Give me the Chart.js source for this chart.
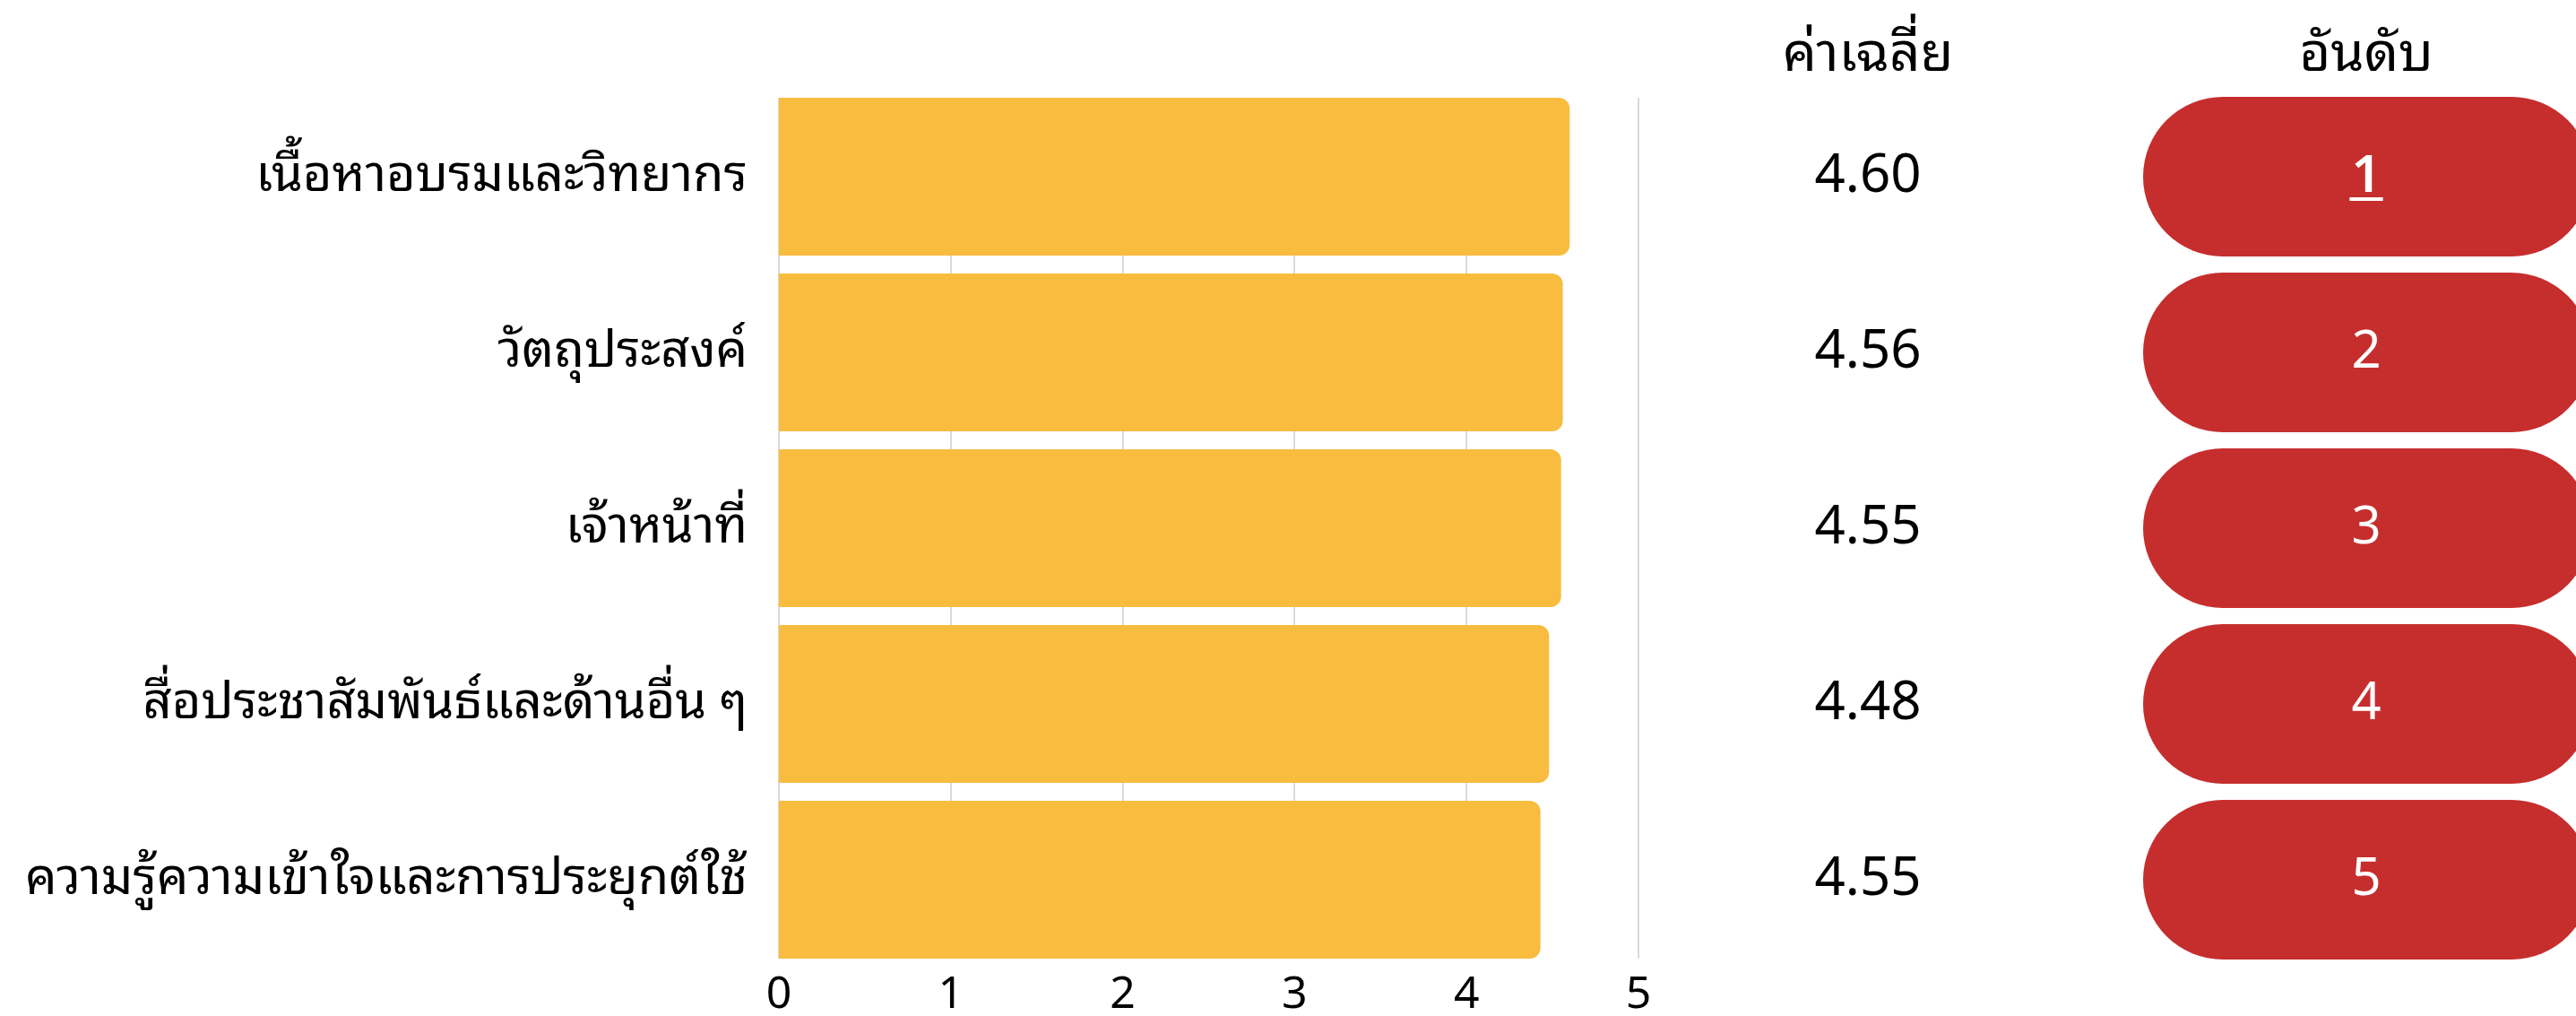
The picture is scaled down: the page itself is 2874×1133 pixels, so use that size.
<!DOCTYPE html>
<html><head><meta charset="utf-8">
<script src="https://cdn.jsdelivr.net/npm/chart.js@4"></script>
<style>html,body{margin:0;padding:0;background:#fff;}canvas{display:block;}</style>
</head><body>
<canvas id="c" width="2874" height="1133"></canvas>
<script>
const categories = ['เนื้อหาอบรมและวิทยากร','วัตถุประสงค์','เจ้าหน้าที่','สื่อประชาสัมพันธ์และด้านอื่น ๆ','ความรู้ความเข้าใจและการประยุกต์ใช้'];
const barValues = [4.60, 4.56, 4.55, 4.48, 4.43];
const meanLabels = ['4.60','4.56','4.55','4.48','4.55'];
const rankLabels = ['1','2','3','4','5'];
const meanHeader = 'ค่าเฉลี่ย';
const rankHeader = 'อันดับ';
const xMin = 0, xMax = 5, xStep = 1;

const BAR = '#F8BC3F', RED = '#C62E2E', GRID = '#D9D9D9';
const THAI = "'Noto Sans Thai Looped','Noto Sans Thai','Noto Sans','DejaVu Sans',sans-serif";
const NUM = "'Noto Sans','Open Sans',sans-serif";

const gridPlugin = {
  id: 'gridlines',
  beforeDatasetsDraw(chart) {
    const ctx = chart.ctx, xs = chart.scales.x;
    const els = chart.getDatasetMeta(0).data;
    const top = els[0].y - els[0].height / 2;
    const bot = els[els.length - 1].y + els[els.length - 1].height / 2;
    ctx.save();
    ctx.strokeStyle = GRID; ctx.lineWidth = 2;
    xs.ticks.forEach(t => {
      const x = Math.round(xs.getPixelForValue(t.value));
      ctx.beginPath(); ctx.moveTo(x, top); ctx.lineTo(x, bot); ctx.stroke();
    });
    ctx.restore();
  }
};

const tablePlugin = {
  id: 'table',
  afterDraw(chart) {
    const ctx = chart.ctx, ys = chart.scales.y;
    const els = chart.getDatasetMeta(0).data;
    const meanX = 2084, rankX = 2640, pillLeft = 2391, pillW = 500;
    ctx.save();
    ctx.textAlign = 'center'; ctx.textBaseline = 'middle';
    ctx.fillStyle = '#000';
    ctx.font = '60px ' + THAI;
    ctx.fillText(meanHeader, meanX, 62);
    ctx.fillText(rankHeader, rankX, 62);
    categories.forEach((c, i) => {
      const y = ys.getPixelForValue(i);
      const h = els[i].height + 2;
      ctx.fillStyle = '#000';
      ctx.font = '60px ' + NUM;
      ctx.fillText(meanLabels[i], meanX, y);
      ctx.fillStyle = RED;
      ctx.beginPath();
      ctx.roundRect(pillLeft, y - h / 2, pillW, h, h / 2);
      ctx.fill();
      ctx.fillStyle = '#fff';
      ctx.font = (i === 0 ? '600 ' : '') + '58px ' + NUM;
      ctx.fillText(rankLabels[i], rankX, y);
      if (i === 0) {
        const w = ctx.measureText(rankLabels[i]).width;
        ctx.fillRect(rankX - w / 2 - 2, y + 23, w + 4, 4);
      }
    });
    ctx.restore();
  }
};

new Chart(document.getElementById('c'), {
  type: 'bar',
  data: {
    labels: categories,
    datasets: [{
      data: barValues,
      backgroundColor: BAR,
      borderRadius: 12,
      borderSkipped: 'start',
      barPercentage: 0.898,
      categoryPercentage: 1
    }]
  },
  options: {
    indexAxis: 'y',
    responsive: false,
    devicePixelRatio: 1,
    animation: false,
    layout: { padding: { top: 99, right: 1046, left: 0, bottom: 0 } },
    plugins: { legend: { display: false }, tooltip: { enabled: false } },
    scales: {
      x: {
        min: xMin, max: xMax,
        ticks: { stepSize: xStep, color: '#000', font: { family: NUM, size: 50, lineHeight: 1 }, padding: 6 },
        grid: { display: false, drawTicks: false, tickLength: 0 },
        border: { display: false },
        afterFit(s) { s.height = 54; }
      },
      y: {
        ticks: { color: '#000', font: { family: THAI, size: 56 }, padding: 35 },
        grid: { display: false, drawTicks: false, tickLength: 0 },
        border: { display: false },
        afterFit(s) { s.width = 869; s.paddingTop = 0; s.paddingBottom = 0; }
      }
    }
  },
  plugins: [gridPlugin, tablePlugin]
});
</script>
</body></html>
